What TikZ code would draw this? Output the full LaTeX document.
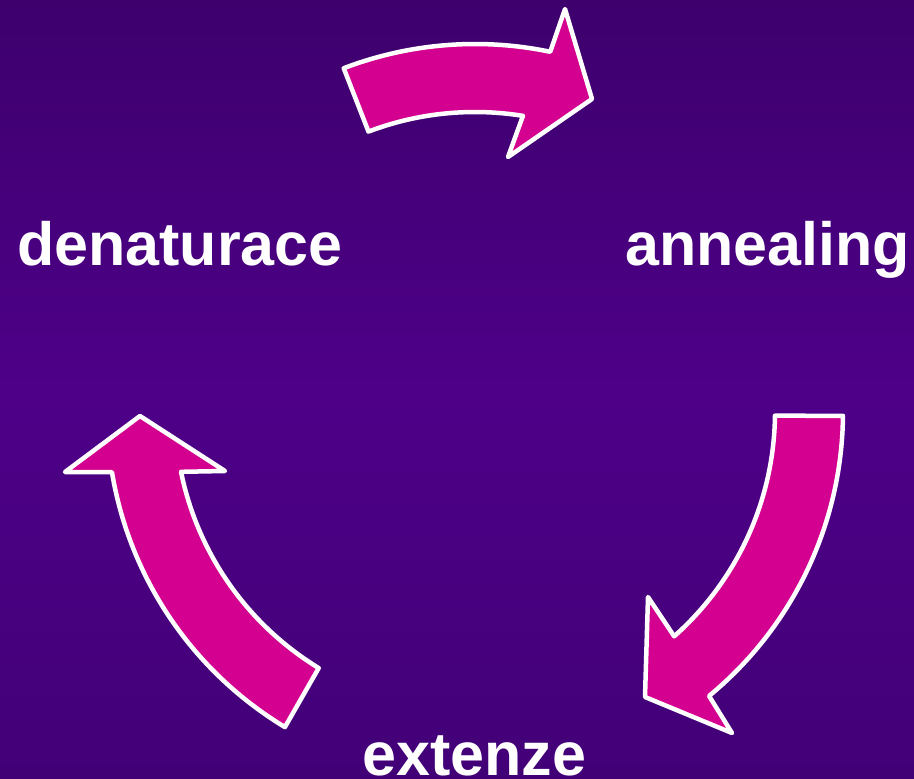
\documentclass[tikz,border=0pt]{standalone}
\usepackage{fontspec}
\setmainfont{Liberation Sans}
\definecolor{bgtop}{HTML}{3D006D}
\definecolor{bgmid}{HTML}{4E0088}
\definecolor{bgbot}{HTML}{420077}
\definecolor{arrowfill}{HTML}{D4008F}
\begin{document}
\begin{tikzpicture}[x=1pt,y=-1pt,
  cyclearrow/.style={fill=arrowfill,draw=white,line width=4.5pt,line join=round},
  label/.style={text=white,font=\bfseries\fontsize{61}{61}\selectfont,inner sep=0pt,anchor=base west}]
\shade[top color=bgtop,bottom color=bgbot,middle color=bgmid] (0,0) rectangle (914,779);
\useasboundingbox (0,0) rectangle (914,779);
\begin{scope}[shift={(475,412)}]
  % top arrow
  \draw[cyclearrow] (-110.9:368) arc[start angle=-110.9,end angle=-78.2,radius=368]
    -- (90,-403) -- (117,-313) -- (33,-255) -- (-80.8:300)
    arc[start angle=-80.8,end angle=-110.8,radius=300] -- cycle;
  % right arrow
  \draw[cyclearrow] (0.6:368) arc[start angle=0.6,end angle=50.5,radius=368]
    -- (257,321) -- (170,285) -- (173,185) -- (48.4:300)
    arc[start angle=48.4,end angle=0.7,radius=300] -- cycle;
  % left arrow
  \draw[cyclearrow] (121.1:368) arc[start angle=121.1,end angle=170.6,radius=368]
    -- (-410,60) -- (-335,4) -- (-250,59) -- (168.5:300)
    arc[start angle=168.5,end angle=121.4,radius=300] -- cycle;
\end{scope}
\node[label] (den) at (17,265) {denaturace};
\node[label] (ann) at (625,265) {annealing};
\node[label] (ext) at (362,775) {extenze};
\end{tikzpicture}
\end{document}
